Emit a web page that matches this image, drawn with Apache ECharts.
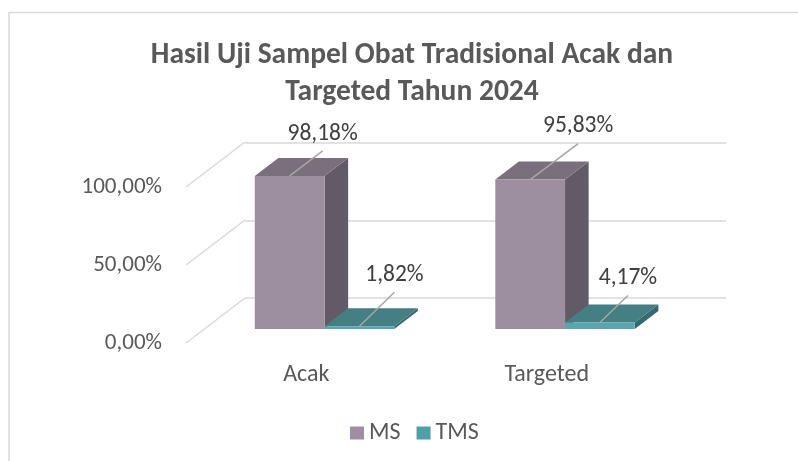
<!DOCTYPE html>
<html><head><meta charset="utf-8">
<script src="https://cdn.jsdelivr.net/npm/echarts@6/dist/echarts.min.js"></script>
<style>html,body{margin:0;padding:0;background:#fff}#c{width:798px;height:461px}</style>
</head><body><div id="c"></div>
<script>
// ---- data ----
const categories = ['Acak', 'Targeted'];
const seriesNames = ['MS', 'TMS'];
const msValues = [98.18, 95.83];
const tmsValues = [1.82, 4.17];
const yTicks = [0, 50, 100];
const titleText = 'Hasil Uji Sampel Obat Tradisional Acak dan\nTargeted Tahun 2024';

// ---- layout / style (not data) ----
const FONT = 'Carlito, Calibri, Lato, sans-serif';
const DEPTH = [59, -45];
const FRONT = 0.31, BACK = 0.71;
const BAR_FRAC = 0.29;
const LEADERS = { MS: [[33, -25], [48, -36]], TMS: [[35, -34], [28, -27]] };
const COLORS = {
  MS: { front: '#9d8f9f', top: '#7a6f7c', side: '#635a67', legend: '#9d8f9f' },
  TMS: { front: '#5ba5af', top: '#437f83', side: '#356a6e', legend: '#4f9fa9' }
};

function fmt(v) { return v.toFixed(2).replace('.', ',') + '%'; }

function barRender(name, sIdx) {
  return function (params, api) {
    const ci = api.value(0), v = api.value(1);
    const base = api.coord([ci, 0]);
    const top = api.coord([ci, v]);
    const bw = api.size([1, 0])[0] * BAR_FRAC;
    const x0 = sIdx === 0 ? base[0] - bw : base[0];
    const x1 = x0 + bw;
    const fx = DEPTH[0] * FRONT, fy = DEPTH[1] * FRONT;
    const bx = DEPTH[0] * BACK, by = DEPTH[1] * BACK;
    const c = COLORS[name];
    const ft = top[1] + fy, fb = base[1] + fy;
    const bt = top[1] + by, bb = base[1] + by;
    const lead = LEADERS[name][params.dataIndex];
    const lx = (x0 + x1) / 2 + fx, ly = ft;
    return {
      type: 'group',
      children: [
        { type: 'polygon', shape: { points: [[x1 + fx, ft], [x1 + bx, bt], [x1 + bx, bb], [x1 + fx, fb]] },
          style: { fill: c.side } },
        { type: 'polygon', shape: { points: [[x0 + fx, ft], [x1 + fx, ft], [x1 + bx, bt], [x0 + bx, bt]] },
          style: { fill: c.top } },
        { type: 'rect', shape: { x: x0 + fx, y: ft, width: bw, height: fb - ft },
          style: { fill: c.front } },
        { type: 'line', shape: { x1: lx, y1: ly, x2: lx + lead[0], y2: ly + lead[1] },
          style: { stroke: '#a6a6a6', lineWidth: 1.5 } },
        { type: 'text', x: lx + lead[0], y: ly + lead[1] - 17,
          style: { text: fmt(v), align: 'center', verticalAlign: 'middle', fill: '#404040',
                   font: '23.5px ' + FONT } }
      ]
    };
  };
}

const chart = echarts.init(document.getElementById('c'), null, { renderer: 'canvas' });
chart.setOption({
  backgroundColor: '#fff',
  animation: false,
  graphic: [{ type: 'rect', shape: { x: 9, y: 12.5, width: 900, height: 600 },
              style: { fill: 'none', stroke: '#d9d9d9', lineWidth: 1.5 }, z: -10 }],
  title: {
    text: titleText, left: 407, top: 32, textAlign: 'center',
    textStyle: { fontFamily: FONT, fontWeight: 'bold', fontSize: 29.5, color: '#595959', lineHeight: 37 }
  },
  legend: {
    data: seriesNames, left: 345, top: 416, icon: 'rect', itemWidth: 14, itemHeight: 13, itemGap: 16,
    textStyle: { fontFamily: FONT, fontSize: 24, color: '#595959' }
  },
  grid: [
    { left: 186, right: 131, top: 187, bottom: 118 },
    { left: 245, right: 72, top: 143, bottom: 163 }
  ],
  xAxis: [
    { type: 'category', data: categories, gridIndex: 0,
      axisLine: { show: false }, axisTick: { show: false },
      axisLabel: { fontFamily: FONT, fontSize: 24, color: '#595959', margin: 20 } },
    { type: 'category', data: categories, gridIndex: 1, show: false }
  ],
  yAxis: [
    { type: 'value', gridIndex: 0, min: 0, max: 100, interval: 50,
      axisLine: { show: false }, axisTick: { show: false }, splitLine: { show: false },
      axisLabel: { formatter: fmt, fontFamily: FONT, fontSize: 23, color: '#595959', margin: 24 } },
    { type: 'value', gridIndex: 1, min: 0, max: 100, interval: 50,
      axisLine: { show: false }, axisTick: { show: false }, axisLabel: { show: false },
      splitLine: { show: true, lineStyle: { color: '#d9d9d9', width: 1.5 } } }
  ],
  series: [
    { type: 'custom', name: '_grid', xAxisIndex: 0, yAxisIndex: 0, silent: true, clip: false,
      data: yTicks.map(v => [0, v]),
      renderItem: function (params, api) {
        const p = api.coord([0, api.value(1)]);
        const x = params.coordSys.x;
        return { type: 'line', shape: { x1: x, y1: p[1], x2: x + DEPTH[0], y2: p[1] + DEPTH[1] },
                 style: { stroke: '#d9d9d9', lineWidth: 1.5 } };
      } },
    { type: 'custom', name: 'MS', xAxisIndex: 0, yAxisIndex: 0, clip: false,
      itemStyle: { color: COLORS.MS.legend },
      data: categories.map((c, i) => [i, msValues[i]]),
      renderItem: barRender('MS', 0) },
    { type: 'custom', name: 'TMS', xAxisIndex: 0, yAxisIndex: 0, clip: false,
      itemStyle: { color: COLORS.TMS.legend },
      data: categories.map((c, i) => [i, tmsValues[i]]),
      renderItem: barRender('TMS', 1) }
  ]
});
</script></body></html>
